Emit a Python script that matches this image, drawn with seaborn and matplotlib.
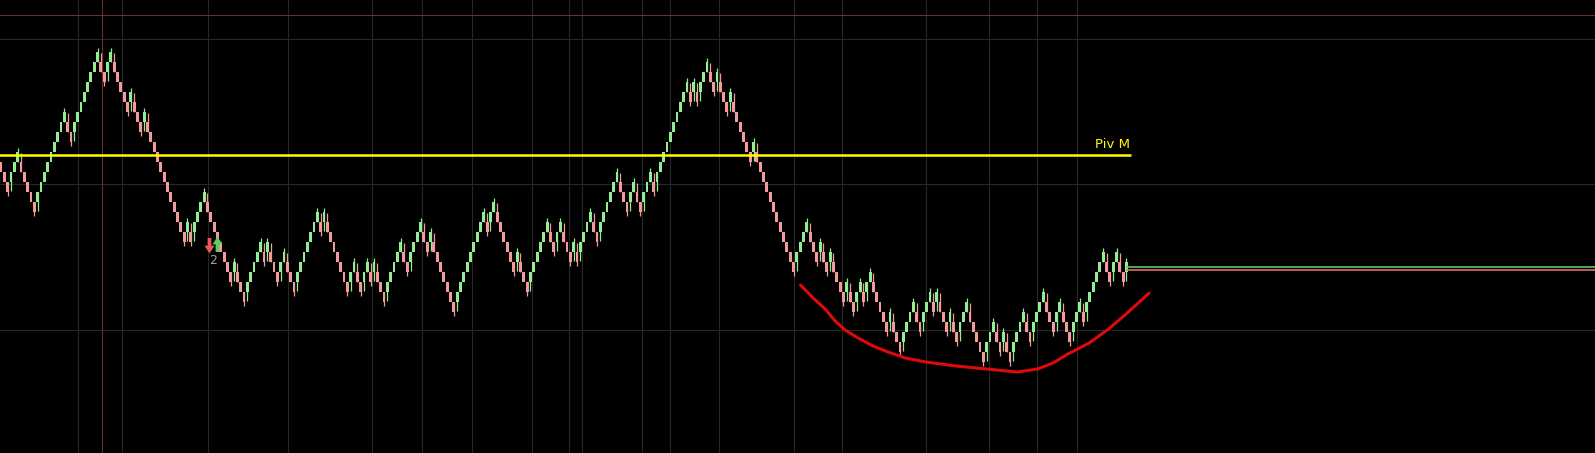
import numpy as np
import pandas as pd
import matplotlib
matplotlib.use("Agg")
import matplotlib.pyplot as plt
from matplotlib.path import Path
import seaborn as sns

# Renko bricks: first brick opens at start_level, then signed run lengths
# (+n = n green bricks up, -n = n red bricks down)
start_level = 5
runs = [
    -3, 3, -5, 9, -2, 8, -2, 2, -5, 1, -3, 1, -12, 1, -1, 4, -8, 1, -3, 5,
    -1, 1, -3, 2, -3, 7, -1, 1, -7, 2, -2, 2, -1, 1, -3, 5, -2, 4, -2,
    1, -7, 9, -1, 2, -6, 1, -3, 6, -2, 2,
    -3, 1, -1, 4, -2, 6, -3, 2, -2, 3, -1, 10, -1, 1, -1, 3,
    -2, 1, -3, 1, -6, 1, -12, 4, -3, 1, -2, 1, -4,
    1, -2, 2, -1, 2, -5, 1, -3, 4, -2, 3, -1, 1, -3, 1, -2, 3, -5,
    3, -2, 1, -2, 4, -2, 4, -3, 2, -3, 3, -1, 6, -2, 2, -2, 1,
]

# pivot line and labels
piv_level = 5.7
piv_label = "Piv M"
last_green_level = -5.5
last_red_level = -5.83
top_red_level = 19.7
cursor_bar = 30.2

# hand drawn "cup" curve (bar index, level)
curve_bar = [240.1, 243.9, 247.5, 250.5, 253.5, 257.4, 261.9, 266.4, 271.6, 277.7,
             286.8, 296.0, 305.2, 311.3, 315.9, 320.4, 326.8, 332.6, 337.2, 341.2,
             344.8]
curve_level = [-7.3, -8.6, -9.7, -10.9, -11.8, -12.6, -13.4, -14.0, -14.6, -15.0,
               -15.4, -15.7, -16.0, -15.7, -15.1, -14.2, -13.1, -11.7, -10.4, -9.2,
               -8.1]

# signal arrows
sell_arrow = (62.6, -3.4)
buy_arrow = (64.9, -3.1)
signal_text = (63.6, -4.9, "2")

# grid
grid_bars = [23.1, 36.3, 62.2, 86.2, 111.4, 126.4, 141.4, 159.5, 170.6, 174.5,
             192.5, 200.9, 215.6, 238.1, 252.5, 277.8, 296.7, 311.1, 323.1]
grid_levels = [17.3, 2.8, -11.8]

GREEN = "#93ee93"
RED = "#f49a9a"


def build_bricks(start, run_list):
    rows = []
    prev_dir, prev_open, prev_close = None, None, None
    for r in run_list:
        d = 1 if r > 0 else -1
        for k in range(abs(r)):
            if prev_dir is None:
                o = start
            elif d == prev_dir:
                o = prev_close
            else:
                o = prev_open
            c = o + d
            rows.append({"low": min(o, c), "dir": d,
                         "reversal": prev_dir is not None and d != prev_dir,
                         "run_end": k == abs(r) - 1})
            prev_dir, prev_open, prev_close = d, o, c
    df = pd.DataFrame(rows)
    df["bar"] = np.arange(len(df))
    return df


bricks = build_bricks(start_level, runs)

sns.set_theme(style="dark", rc={"axes.facecolor": "black", "figure.facecolor": "black"})
plt.rcParams["font.family"] = ["DejaVu Sans"]

fig = plt.figure(figsize=(15.95, 4.53), dpi=100)
ax = fig.add_axes([0, 0, 1, 1])
ax.set_facecolor("black")

# grid
for b in grid_bars:
    ax.axvline(b, color="#272727", lw=0.8, zorder=0)
for lv in grid_levels:
    ax.axhline(lv, color="#272727", lw=0.8, zorder=0)
ax.axhline(top_red_level, color="#6e2c2c", lw=0.8, zorder=0)
ax.axvline(cursor_bar, color="#6e2c2c", lw=0.8, zorder=0)

# wicks
colors = np.where(bricks["dir"] > 0, GREEN, RED)
for _, row in bricks.iterrows():
    col = GREEN if row["dir"] > 0 else RED
    lo, hi = row["low"], row["low"] + 1
    if row["reversal"]:
        if row["dir"] > 0:
            lo -= 0.9
        else:
            hi += 0.9
    if row["run_end"]:
        if row["dir"] > 0:
            hi += 0.4
        else:
            lo -= 0.4
    if lo != row["low"] or hi != row["low"] + 1:
        ax.vlines(row["bar"], lo, hi, color=col, lw=0.9, zorder=2)

# bodies
ax.bar(bricks["bar"], 1.0, bottom=bricks["low"], width=0.85, color=colors,
       linewidth=0, zorder=3)

# pivot line
n_bars = len(bricks)
ax.hlines(piv_level, -1, n_bars + 0.3, color="#ffff00", lw=1.8, zorder=4)
ax.text(n_bars + 0.1, piv_level + 0.35, piv_label, color="#ffff00", fontsize=9.5,
        ha="right", va="bottom")

# last price lines
ax.hlines(last_green_level, n_bars - 1, 500, color="#5fc75f", lw=1.2, zorder=4)
ax.hlines(last_red_level, n_bars - 1, 500, color="#e07070", lw=1.2, zorder=4)

# cup curve
sns.lineplot(x=curve_bar, y=curve_level, sort=False, color="#dd0a0a", lw=2.2,
             ax=ax, zorder=5)

# arrows
down = Path([(-0.22, 1), (0.22, 1), (0.22, 0.1), (0.6, 0.1), (0, -0.8),
             (-0.6, 0.1), (-0.22, 0.1), (-0.22, 1)])
up = Path([(-0.22, -1), (0.22, -1), (0.22, -0.1), (0.6, -0.1), (0, 0.8),
           (-0.6, -0.1), (-0.22, -0.1), (-0.22, -1)])
ax.scatter([sell_arrow[0]], [sell_arrow[1]], marker=down, s=150, color="#e85a5a",
           linewidths=0, zorder=6)
ax.scatter([buy_arrow[0]], [buy_arrow[1]], marker=up, s=150, color="#5ccf5c",
           linewidths=0, zorder=6)
ax.text(signal_text[0], signal_text[1], signal_text[2], color="#a0a0a0",
        fontsize=9, ha="center", va="center")

ax.set_xlim(-0.3, 478.7)
ax.set_ylim(-24.1, 21.2)
ax.set_axis_off()
if ax.get_legend():
    ax.get_legend().remove()

fig.savefig("out.png", dpi=100, facecolor="black")
